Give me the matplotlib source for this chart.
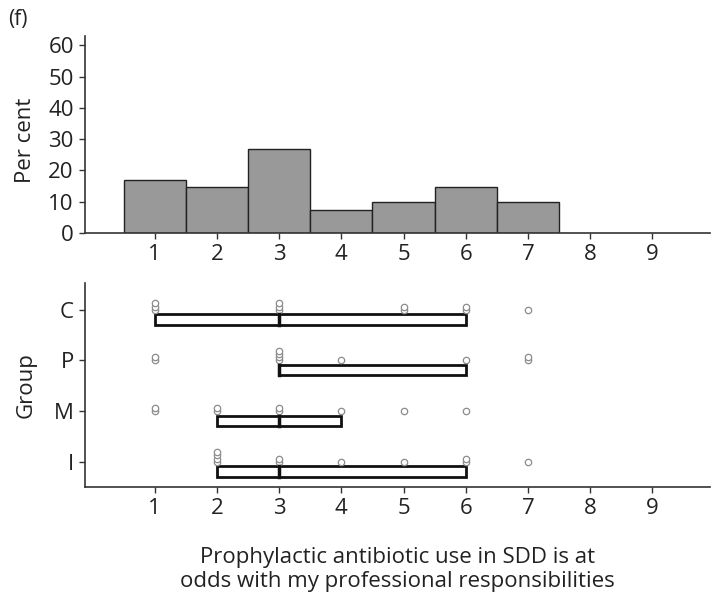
import numpy as np
import matplotlib
matplotlib.use("Agg")
import matplotlib.pyplot as plt

plt.rcParams['font.family'] = ['Open Sans', 'DejaVu Sans']

# histogram (per cent of respondents per score)
scores = [1, 2, 3, 4, 5, 6, 7]
per_cent = [17.07, 14.63, 26.83, 7.32, 9.76, 14.63, 9.76]

# responses by group
groups = ['C', 'P', 'M', 'I']
group_pos = [4, 3, 2, 1]
responses = {
    'C': [1, 1, 1, 3, 3, 3, 5, 5, 6, 6, 7],
    'P': [1, 1, 3, 3, 3, 3, 4, 6, 7, 7],
    'M': [1, 1, 2, 2, 3, 3, 4, 5, 6],
    'I': [2, 2, 2, 2, 3, 3, 4, 5, 6, 6, 7],
}
q1 = [1, 3, 2, 2]
median = [3, 3, 3, 3]
q3 = [6, 6, 4, 6]

ticks = list(range(1, 10))
txt = '#222222'
spine_c = '#333333'
fs = 16

fig = plt.figure(figsize=(7.14, 5.97), dpi=100)
ax1 = fig.add_axes([0.119, 0.6097, 0.875, 0.33])
ax2 = fig.add_axes([0.119, 0.184, 0.875, 0.342])

for ax in (ax1, ax2):
    ax.spines['top'].set_visible(False)
    ax.spines['right'].set_visible(False)
    for s in ('left', 'bottom'):
        ax.spines[s].set_color(spine_c)
        ax.spines[s].set_linewidth(1.2)
    ax.set_xlim(-0.12, 9.92)
    ax.set_xticks(ticks)
    ax.tick_params(axis='both', direction='out', length=4, width=1,
                   color=spine_c, labelcolor=txt, labelsize=fs, pad=4)

# top histogram
ax1.bar(scores, per_cent, width=1, color='#999999', edgecolor='#222222', linewidth=1)
ax1.set_ylim(0, 63)
ax1.set_yticks([0, 10, 20, 30, 40, 50, 60])
ax1.set_ylabel('Per cent', fontsize=fs, color=txt)

# bottom: dots and boxes
step = 0.065
for g, y in zip(groups, group_pos):
    vals = responses[g]
    seen = {}
    xs, ys = [], []
    for v in vals:
        k = seen.get(v, 0)
        seen[v] = k + 1
        xs.append(v)
        ys.append(y + k * step)
    ax2.plot(xs, ys, 'o', ms=4.6, mfc='white', mec='#8c8c8c', mew=0.9, ls='none', zorder=3)

for i, y in enumerate(group_pos):
    ax2.barh(y - 0.19, q3[i] - q1[i], left=q1[i], height=0.2,
             color='white', edgecolor='#111111', linewidth=2, zorder=2)
    ax2.plot([median[i], median[i]], [y - 0.29, y - 0.09], color='#111111', lw=2.5, zorder=4)

ax2.set_ylim(0.5, 4.53)
ax2.set_yticks(group_pos)
ax2.set_yticklabels(groups)
ax2.set_ylabel('Group', fontsize=fs, color=txt)
ax2.set_xlabel('Prophylactic antibiotic use in SDD is at\nodds with my professional responsibilities',
               fontsize=fs, color=txt, labelpad=20, linespacing=1.2)

ax1.yaxis.set_label_coords(-0.078, 0.47)
ax2.yaxis.set_label_coords(-0.078, 0.5)

fig.text(0.011, 0.968, '(f)', fontsize=fs - 1, color=txt, va='center', ha='left')

fig.savefig('out.png', dpi=100)
